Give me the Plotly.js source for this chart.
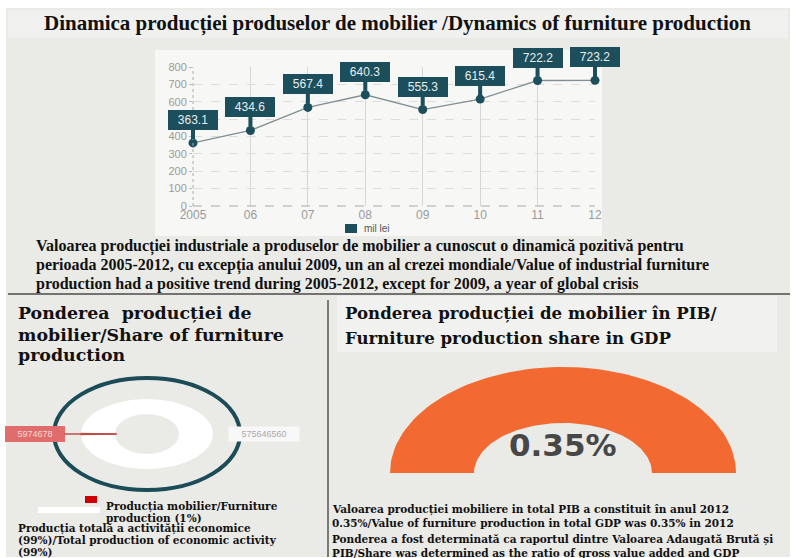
<!DOCTYPE html>
<html>
<head>
<meta charset="utf-8">
<script src="https://cdn.plot.ly/plotly-3.0.1.min.js"></script>
<style>html,body{margin:0;padding:0;background:#fff;}#chart{width:796px;height:558px;}</style>
</head>
<body>
<div id="chart"></div>
<script>
// ---------- DATA ----------
const years = [2005, 2006, 2007, 2008, 2009, 2010, 2011, 2012];
const yearLabels = ['2005', '06', '07', '08', '09', '10', '11', '12'];
const production = [363.1, 434.6, 567.4, 640.3, 555.3, 615.4, 722.2, 723.2];
const yTicks = [0, 100, 200, 300, 400, 500, 600, 700, 800];
const unitLabel = 'mil lei';

const shareValues = [5974678, 575646560];
const shareValueLabels = ['5974678', '575646560'];
const shareColors = ['#c0392b', '#ffffff'];

const gdpShare = 0.35;

// ---------- helpers (pixel -> paper) ----------
const W = 796, H = 558;
const X = px => px / W;
const Y = py => 1 - py / H;
const serif = 'Liberation Serif, Times New Roman, serif';
const wideSerif = 'DejaVu Serif, serif';

// ellipse ring sector polygon (angles in degrees, counter-clockwise, y down axis)
function sector(cx, cy, rxo, ryo, rxi, ryi, a0, a1) {
  const n = Math.max(4, Math.ceil(Math.abs(a1 - a0) / 2));
  const xs = [], ys = [];
  for (let i = 0; i <= n; i++) {
    const a = (a0 + (a1 - a0) * i / n) * Math.PI / 180;
    xs.push(cx + rxo * Math.cos(a)); ys.push(cy - ryo * Math.sin(a));
  }
  for (let i = n; i >= 0; i--) {
    const a = (a0 + (a1 - a0) * i / n) * Math.PI / 180;
    xs.push(cx + rxi * Math.cos(a)); ys.push(cy - ryi * Math.sin(a));
  }
  xs.push(xs[0]); ys.push(ys[0]);
  return {xs, ys};
}

const traces = [];

// line chart
traces.push({
  type: 'scatter', mode: 'lines+markers', x: years, y: production,
  line: {color: '#7f8e92', width: 1.3},
  marker: {color: '#1d4e5b', size: 9},
  cliponaxis: false, hoverinfo: 'x+y', showlegend: false,
  xaxis: 'x', yaxis: 'y'
});

// donut (ellipse) built from share values
const dcx = 147, dcy = 434;
const total = shareValues.reduce((a, b) => a + b, 0);
let start = 180 - 360 * shareValues[0] / total / 2;
shareValues.forEach((v, i) => {
  const span = 360 * v / total;
  const s = sector(dcx, dcy, 66, 35, 32, 20, start, start + span);
  traces.push({
    type: 'scatter', mode: 'lines', x: s.xs, y: s.ys, fill: 'toself',
    fillcolor: shareColors[i], line: {width: i === 0 ? 1 : 0, color: shareColors[i]},
    hoverinfo: 'text', text: shareValueLabels[i], showlegend: false,
    xaxis: 'x2', yaxis: 'y2'
  });
  start += span;
});

// GDP gauge (half ellipse)
const g = sector(563, 473, 173, 106, 89, 50, 180, 0);
traces.push({
  type: 'scatter', mode: 'lines', x: g.xs, y: g.ys, fill: 'toself',
  fillcolor: '#f26a32', line: {width: 0}, hoverinfo: 'skip', showlegend: false,
  xaxis: 'x2', yaxis: 'y2'
});

// ---------- annotations ----------
const ann = [];
years.forEach((yr, i) => {
  ann.push({
    x: yr, y: production[i], xref: 'x', yref: 'y',
    text: production[i].toFixed(1), showarrow: true, ax: 0, ay: -23,
    arrowhead: 0, arrowwidth: 4, arrowcolor: '#1d4e5b', standoff: 4,
    bgcolor: '#1d4e5b', bordercolor: '#1d4e5b', borderpad: 1,
    width: 46, height: 16,
    font: {family: 'Arial, Liberation Sans, sans-serif', size: 12, color: '#e6eef0'}
  });
});
function txt(x, y, text, size, opts, fam) {
  ann.push(Object.assign({
    x: X(x), y: Y(y), xref: 'paper', yref: 'paper', text: text, showarrow: false,
    xanchor: 'left', yanchor: 'middle', align: 'left',
    font: {family: fam || serif, size: size, color: '#111'}
  }, opts || {}));
}
txt(397, 23, '<b>Dinamica producției produselor de mobilier /Dynamics of furniture production</b>', 21, {xanchor: 'center'});
txt(362, 229, unitLabel, 10, {font: {family: 'Arial, sans-serif', size: 10, color: '#555'}});
txt(34, 246, '<b>Valoarea producției industriale a produselor de mobilier a cunoscut o dinamică pozitivă pentru</b>', 16);
txt(34, 265, '<b>perioada 2005-2012, cu excepția anului 2009, un an al crezei mondiale/Value of industrial furniture</b>', 16);
txt(34, 284, '<b>production had a positive trend during 2005-2012, except for 2009, a year of global crisis</b>', 16);

txt(16, 313, '<b>Ponderea  producției de</b>', 17.4, null, wideSerif);
txt(16, 335, '<b>mobilier/Share of furniture</b>', 17.4, null, wideSerif);
txt(16, 355, '<b>production</b>', 17.4, null, wideSerif);

txt(343, 313, '<b>Ponderea producției de mobilier în PIB/</b>', 16.6, null, wideSerif);
txt(343, 338, '<b>Furniture production share in GDP</b>', 16.6, null, wideSerif);

// donut labels
ann.push({
  x: 117, y: dcy, xref: 'x2', yref: 'y2', ax: 35, ay: dcy, axref: 'x2', ayref: 'y2',
  text: shareValueLabels[0], showarrow: true, arrowhead: 0, arrowwidth: 1.5, arrowcolor: '#c0504d',
  bgcolor: '#e06c6c', bordercolor: '#e06c6c', borderpad: 2, width: 54,
  font: {family: 'Arial, sans-serif', size: 9, color: '#f6dada'}
});
ann.push({
  x: 264, y: dcy, xref: 'x2', yref: 'y2', text: shareValueLabels[1], showarrow: false,
  bgcolor: '#f8f8f8', borderpad: 2, width: 66,
  font: {family: 'Arial, sans-serif', size: 9, color: '#a9a9a9'}
});
txt(104, 506, '<b>Producția mobilier/Furniture</b>', 10.5, null, wideSerif);
txt(104, 518, '<b>production (1%)</b>', 10.5, null, wideSerif);
txt(16, 528, '<b>Producția totală a activității economice</b>', 10.5, null, wideSerif);
txt(16, 540, '<b>(99%)/Total production of economic activity</b>', 10.5, null, wideSerif);
txt(16, 552, '<b>(99%)</b>', 10.5, null, wideSerif);

// gauge value
txt(563, 445, '<b>' + gdpShare.toFixed(2) + '%</b>', 31, {xanchor: 'center', font: {family: 'DejaVu Sans, sans-serif', size: 31, color: '#474747'}});
txt(330, 509, '<b>Valoarea producției mobiliere in total PIB a constituit în anul 2012</b>', 10.5, null, wideSerif);
txt(330, 523, '<b>0.35%/Value of furniture production in total GDP was 0.35% in 2012</b>', 10.5, null, wideSerif);
txt(330, 539, '<b>Ponderea a fost determinată ca raportul dintre Valoarea Adaugată Brută și</b>', 10.5, null, wideSerif);
txt(330, 553, '<b>PIB/Share was determined as the ratio of gross value added and GDP</b>', 10.5, null, wideSerif);

// ---------- shapes ----------
const shapes = [
  {type: 'rect', xref: 'paper', yref: 'paper', x0: X(6), x1: X(790), y0: Y(557), y1: Y(8), fillcolor: '#eaeae7', line: {width: 0}, layer: 'below'},
  {type: 'rect', xref: 'paper', yref: 'paper', x0: X(8), x1: X(788), y0: Y(38), y1: Y(10), fillcolor: '#f0f0ee', line: {width: 0}, layer: 'below'},
  {type: 'rect', xref: 'paper', yref: 'paper', x0: X(155), x1: X(602), y0: Y(236), y1: Y(50), fillcolor: '#f7f7f6', line: {width: 0}, layer: 'below'},
  {type: 'rect', xref: 'paper', yref: 'paper', x0: X(337), x1: X(777), y0: Y(352), y1: Y(296), fillcolor: '#f1f1ef', line: {width: 0}, layer: 'below'},
  {type: 'line', xref: 'paper', yref: 'paper', x0: X(8), x1: X(790), y0: Y(294), y1: Y(294), line: {color: '#4a4a4a', width: 1.5}},
  {type: 'line', xref: 'paper', yref: 'paper', x0: X(328), x1: X(328), y0: Y(300), y1: Y(557), line: {color: '#7a7a7a', width: 2}},
  // axis lines of line chart
  {type: 'line', xref: 'x domain', yref: 'y domain', x0: 0, x1: 0, y0: 0, y1: 1, line: {color: '#aaaaaa', width: 1, dash: 'dot'}},
  {type: 'line', xref: 'x domain', yref: 'y domain', x0: 0, x1: 1, y0: 0, y1: 0, line: {color: '#aaaaaa', width: 1, dash: 'dash'}},
  // legend swatch (mil lei)
  {type: 'rect', xref: 'paper', yref: 'paper', x0: X(345), x1: X(357), y0: Y(233), y1: Y(224), fillcolor: '#1d4e5b', line: {width: 0}},
  // donut outer ring
  {type: 'circle', xref: 'x2', yref: 'y2', x0: 54, x1: 240, y0: 378, y1: 490, line: {color: '#1c4c57', width: 4}},
  // donut legend swatches
  {type: 'rect', xref: 'paper', yref: 'paper', x0: X(85), x1: X(97), y0: Y(503), y1: Y(496), fillcolor: '#cc0000', line: {width: 0}},
  {type: 'rect', xref: 'paper', yref: 'paper', x0: X(38), x1: X(100), y0: Y(513), y1: Y(507), fillcolor: '#ffffff', line: {width: 0}}
];

const layout = {
  width: W, height: H,
  margin: {l: 0, r: 0, t: 0, b: 0, pad: 0},
  paper_bgcolor: '#ffffff', plot_bgcolor: 'rgba(0,0,0,0)',
  showlegend: false,
  xaxis: {
    domain: [X(193), X(595)], range: [2005, 2012], anchor: 'y',
    tickvals: years, ticktext: yearLabels, showgrid: true, gridcolor: '#d6d6d6', gridwidth: 1,
    zeroline: false, showline: false, ticks: '',
    tickfont: {family: 'Arial, sans-serif', size: 12, color: '#9a9a9a'}, fixedrange: true
  },
  yaxis: {
    domain: [Y(206), Y(67)], range: [0, 800], anchor: 'x',
    tickvals: yTicks, showgrid: true, gridcolor: '#dddddd', griddash: 'dash', gridwidth: 1,
    zeroline: false, showline: false, ticks: 'outside', ticklen: 3, tickcolor: '#bbbbbb',
    tickfont: {family: 'Arial, sans-serif', size: 11, color: '#9a9a9a'}, fixedrange: true
  },
  xaxis2: {domain: [0, 1], range: [0, W], anchor: 'y2', visible: false, fixedrange: true},
  yaxis2: {domain: [0, 1], range: [H, 0], anchor: 'x2', visible: false, fixedrange: true},
  annotations: ann,
  shapes: shapes
};

Plotly.newPlot('chart', traces, layout, {displayModeBar: false, staticPlot: true});
</script>
</body>
</html>
